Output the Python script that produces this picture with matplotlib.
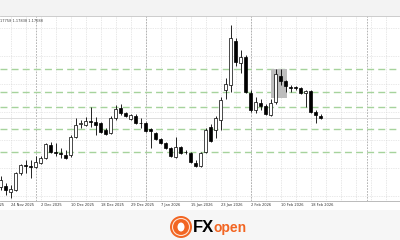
import numpy as np
import matplotlib
matplotlib.use("Agg")
import matplotlib.pyplot as plt
from matplotlib.patches import Rectangle, Ellipse

# daily candles, 20 Nov 2025 .. 20 Feb 2026
opens = [1.15429, 1.15462, 1.15264, 1.15330, 1.15891, 1.16155, 1.16122, 1.16089, 1.16221, 1.16386,
         1.16815, 1.16584, 1.16551, 1.16485, 1.16485, 1.17079, 1.17508, 1.17475, 1.17607, 1.17574,
         1.17541, 1.17310, 1.17211, 1.17706, 1.18036, 1.17871, 1.17673, 1.17772, 1.17541, 1.17541,
         1.17343, 1.17211, 1.17013, 1.16881, 1.16716, 1.16419, 1.16749, 1.16584, 1.16551, 1.16221,
         1.16122, 1.16584, 1.17409, 1.17310, 1.17640, 1.18630, 1.18795, 1.20247, 1.19521, 1.19719,
         1.18531, 1.17970, 1.18201, 1.18102, 1.17805, 1.18234, 1.19092, 1.18927, 1.18729, 1.18713,
         1.18696, 1.18531, 1.18597, 1.17904, 1.17758]
highs = [1.15792, 1.15561, 1.15495, 1.15924, 1.16188, 1.16320, 1.16320, 1.16452, 1.16452, 1.16881,
         1.16914, 1.16881, 1.16716, 1.16650, 1.17145, 1.17706, 1.17640, 1.17739, 1.18069, 1.17739,
         1.17574, 1.17376, 1.17772, 1.18135, 1.18168, 1.17904, 1.17838, 1.17838, 1.17706, 1.17574,
         1.17376, 1.17244, 1.17046, 1.16914, 1.16749, 1.17079, 1.16782, 1.16650, 1.16584, 1.16320,
         1.16584, 1.17376, 1.17508, 1.17772, 1.18399, 1.19026, 1.20775, 1.20346, 1.19950, 1.19785,
         1.18630, 1.18399, 1.18333, 1.18168, 1.18333, 1.19323, 1.19323, 1.18960, 1.18795, 1.18762,
         1.18729, 1.18630, 1.18630, 1.17970, 1.17838]
lows = [1.15330, 1.15165, 1.15066, 1.15297, 1.15825, 1.15891, 1.15726, 1.16056, 1.16188, 1.16353,
        1.16551, 1.16452, 1.16386, 1.16353, 1.16419, 1.17046, 1.17376, 1.17442, 1.17409, 1.17145,
        1.17211, 1.17145, 1.17178, 1.17640, 1.17805, 1.17739, 1.17640, 1.17508, 1.17376, 1.17244,
        1.16716, 1.16980, 1.16848, 1.16683, 1.16419, 1.16386, 1.16518, 1.16518, 1.16221, 1.16089,
        1.16089, 1.16551, 1.16914, 1.17046, 1.17310, 1.18333, 1.18564, 1.19422, 1.19191, 1.18531,
        1.17904, 1.17871, 1.17970, 1.17805, 1.17772, 1.18168, 1.18795, 1.18564, 1.18564, 1.18630,
        1.18498, 1.18069, 1.17871, 1.17541, 1.17688]
closes = [1.15660, 1.15330, 1.15363, 1.15891, 1.16155, 1.16122, 1.16089, 1.16254, 1.16386, 1.16848,
          1.16584, 1.16551, 1.16518, 1.16386, 1.17079, 1.17475, 1.17541, 1.17607, 1.17574, 1.17475,
          1.17244, 1.17178, 1.17706, 1.18003, 1.17871, 1.17772, 1.17805, 1.17541, 1.17525, 1.17277,
          1.17277, 1.17013, 1.16881, 1.16716, 1.16452, 1.16749, 1.16551, 1.16568, 1.16254, 1.16122,
          1.16551, 1.17310, 1.16947, 1.17706, 1.18300, 1.18828, 1.20346, 1.19554, 1.19719, 1.18564,
          1.17970, 1.18234, 1.18102, 1.17838, 1.18201, 1.19158, 1.18927, 1.18762, 1.18709, 1.18689,
          1.18531, 1.18597, 1.17904, 1.17805, 1.17700]

date_labels = ["18 Nov 2025", "24 Nov 2025", "2 Dec 2025", "10 Dec 2025", "18 Dec 2025", "29 Dec 2025",
               "7 Jan 2026", "15 Jan 2026", "23 Jan 2026", "2 Feb 2026", "10 Feb 2026", "18 Feb 2026"]
date_pos = [-4, 2, 8, 14, 20, 26, 32, 38, 44, 50, 56, 62]
month_sep = [7, 29, 50, 73.2]
levels = [1.1932, 1.1856, 1.1807, 1.1734, 1.1658]
grid_prices = [1.2068, 1.1975, 1.1883, 1.1790, 1.1698, 1.1606, 1.1513]
box_idx = (54, 57.2)
box_price = (1.18366, 1.19323)
header = "17758 1.17838 1.17688"

fig = plt.figure(figsize=(4, 2.4), dpi=100)
fig.patch.set_facecolor("white")
fig.patches.append(Rectangle((0, 224 / 240), 1, 16 / 240, transform=fig.transFigure,
                             facecolor="#f3f3f3", edgecolor="none", zorder=0))
fig.patches.append(Rectangle((0, 0), 1, 30 / 240, transform=fig.transFigure,
                             facecolor="#f6f6f6", edgecolor="none", zorder=0))

ax = fig.add_axes([0, 39 / 240, 1, 185 / 240])
ax.set_xlim(-0.15, 79.85)
ax.set_ylim(1.14967, 1.21072)

# grid
for g in np.arange(2, 80, 3):
    ax.axvline(g, color="#d0d0d0", lw=0.5, ls=(0, (1, 1.5)), zorder=1)
for p in grid_prices:
    ax.axhline(p, color="#d4d4d4", lw=0.5, ls=(0, (1, 1.5)), zorder=1)
for m in month_sep:
    ax.axvline(m, color="#a8a8a8", lw=0.6, ls=(0, (2, 1.5)), zorder=1)
for lv in levels:
    ax.axhline(lv, color="#a6d39c", lw=1.0, ls=(0, (5, 3)), zorder=1)
ax.axhline(closes[-1], color="#dcdcdc", lw=0.7, zorder=1)

ax.add_patch(Rectangle((box_idx[0], box_price[0]), box_idx[1] - box_idx[0],
                       box_price[1] - box_price[0], facecolor="#bdbdbd", edgecolor="none", zorder=2))

idx = np.arange(len(opens))
o = np.array(opens)
c = np.array(closes)
ax.vlines(idx, lows, highs, color="black", lw=0.6, zorder=3)
up = c >= o
bottoms = np.minimum(o, c)
heights = np.maximum(np.abs(c - o), 0.00008)
ax.bar(idx[up], heights[up], bottom=bottoms[up], width=0.62, color="white",
       edgecolor="black", linewidth=0.5, zorder=4)
ax.bar(idx[~up], heights[~up], bottom=bottoms[~up], width=0.62, color="black",
       edgecolor="black", linewidth=0.5, zorder=4)

ax.set_xticks([])
ax.set_yticks([])
for s in ["left", "right"]:
    ax.spines[s].set_visible(False)
ax.spines["top"].set_color("#c4c4c4")
ax.spines["bottom"].set_color("#b0b0b0")
for s in ["top", "bottom"]:
    ax.spines[s].set_linewidth(0.6)

for pos, lab in zip(date_pos, date_labels):
    ax.text(pos, -0.012, lab, transform=ax.get_xaxis_transform(), fontsize=2.6,
            color="#333333", ha="left", va="top", clip_on=False)

ax.text(0.0, 0.985, header, transform=ax.transAxes, fontsize=2.6, color="#444444",
        ha="left", va="top")

# logo
cx, cy = 181 / 400, 13 / 240
fig.patches.append(Ellipse((cx, cy), 22 / 400, 22 / 240, transform=fig.transFigure,
                           facecolor="#f26522", edgecolor="none", zorder=3))
fig.patches.append(Ellipse((cx, cy), 17 / 400, 17 / 240, transform=fig.transFigure,
                           facecolor="none", edgecolor="#fde3d3", lw=0.8, zorder=4))
fig.patches.append(Ellipse((cx, cy), 7 / 400, 9 / 240, transform=fig.transFigure,
                           facecolor="white", edgecolor="none", zorder=4))
fig.text(193 / 400, cy, "FX", fontsize=12, fontweight="bold", color="black",
         ha="left", va="center", family="Liberation Sans")
fig.text(214 / 400, cy - 0.006, "open", fontsize=10, fontweight="bold", color="#f26522",
         ha="left", va="center", family="Liberation Sans")

fig.savefig("out.png", dpi=100)
